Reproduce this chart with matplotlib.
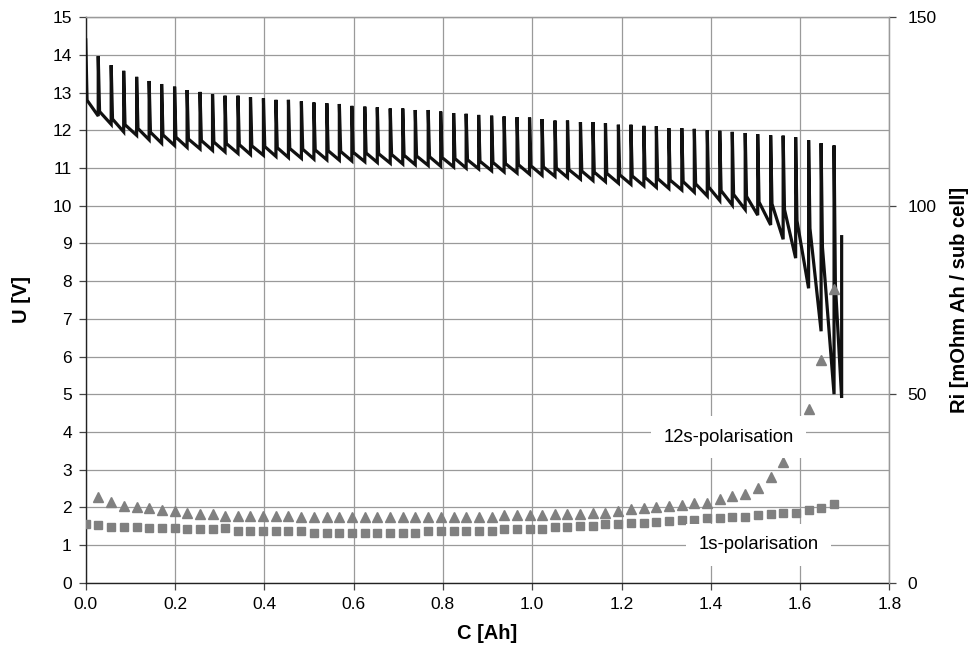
import matplotlib
matplotlib.use("Agg")
import matplotlib.pyplot as plt
from matplotlib.ticker import FormatStrFormatter

plt.rcParams['font.family'] = ['Liberation Sans', 'DejaVu Sans']

# ---- data -------------------------------------------------------------
# capacity at each current pulse [Ah]
pulse_c = [0.000, 0.028, 0.057, 0.085, 0.114, 0.142, 0.170, 0.199, 0.227, 0.256,
           0.284, 0.312, 0.341, 0.369, 0.398, 0.426, 0.454, 0.483, 0.511, 0.540,
           0.568, 0.596, 0.625, 0.653, 0.682, 0.710, 0.738, 0.767, 0.795, 0.824,
           0.852, 0.880, 0.909, 0.937, 0.966, 0.994, 1.022, 1.051, 1.079, 1.108,
           1.136, 1.164, 1.193, 1.221, 1.250, 1.278, 1.306, 1.335, 1.363, 1.392,
           1.420, 1.448, 1.477, 1.505, 1.534, 1.562, 1.590, 1.619, 1.647, 1.676]
# voltage peak at each pulse [V]
peak_u = [14.40, 13.97, 13.73, 13.58, 13.42, 13.31, 13.23, 13.16, 13.07, 13.02,
          12.96, 12.92, 12.92, 12.88, 12.85, 12.81, 12.81, 12.77, 12.74, 12.72,
          12.70, 12.65, 12.63, 12.61, 12.58, 12.58, 12.54, 12.54, 12.50, 12.46,
          12.44, 12.41, 12.39, 12.37, 12.35, 12.34, 12.30, 12.26, 12.26, 12.22,
          12.22, 12.19, 12.15, 12.15, 12.12, 12.11, 12.06, 12.06, 12.04, 12.00,
          11.99, 11.96, 11.93, 11.90, 11.87, 11.86, 11.82, 11.74, 11.66, 11.60]
# voltage right after the fast drop following each pulse [V]
knee_u = [12.80, 12.50, 12.30, 12.15, 12.05, 11.95, 11.88, 11.82, 11.77, 11.73,
          11.69, 11.65, 11.62, 11.59, 11.57, 11.54, 11.52, 11.50, 11.48, 11.46,
          11.44, 11.42, 11.40, 11.38, 11.36, 11.34, 11.32, 11.30, 11.28, 11.25,
          11.22, 11.18, 11.15, 11.12, 11.09, 11.06, 11.03, 11.00, 10.96, 10.92,
          10.89, 10.86, 10.82, 10.79, 10.75, 10.72, 10.68, 10.64, 10.58, 10.50,
          10.40, 10.30, 10.25, 10.10, 10.05, 9.90, 9.60, 9.40, 8.90, 7.90]
# voltage just before each pulse (pulse 1..59) [V]
trough_u = [12.38, 12.16, 11.96, 11.87, 11.75, 11.66, 11.60, 11.55, 11.51,
            11.47, 11.43, 11.39, 11.36, 11.34, 11.31, 11.28, 11.26, 11.24, 11.22,
            11.21, 11.19, 11.17, 11.15, 11.13, 11.11, 11.09, 11.07, 11.05, 11.03,
            11.00, 10.98, 10.93, 10.90, 10.87, 10.84, 10.81, 10.78, 10.75, 10.71,
            10.67, 10.64, 10.60, 10.57, 10.53, 10.49, 10.46, 10.42, 10.36, 10.26,
            10.14, 10.02, 9.90, 9.75, 9.49, 9.11, 8.61, 7.81, 6.67, 5.00]
# end of discharge: last low point and final relaxation step
final_c = 1.693
final_low_u = 4.90
final_high_u = 9.18

# internal resistance [mOhm Ah / sub cell]
ri_1s = [15.6, 15.3, 14.9, 14.9, 14.9, 14.5, 14.6, 14.6, 14.2, 14.2,
         14.2, 14.4, 13.7, 13.7, 13.7, 13.7, 13.7, 13.7, 13.3, 13.3,
         13.3, 13.3, 13.3, 13.3, 13.3, 13.3, 13.3, 13.7, 13.7, 13.7,
         13.7, 13.8, 13.7, 14.2, 14.2, 14.2, 14.2, 14.9, 14.9, 15.1,
         15.1, 15.6, 15.6, 15.8, 15.8, 16.2, 16.4, 16.5, 16.6, 17.1,
         17.1, 17.5, 17.5, 18.0, 18.2, 18.6, 18.6, 19.3, 19.7, 20.9]
ri_12s = [22.7, 21.3, 20.4, 20.2, 19.7, 19.3, 19.0, 18.6, 18.2,
          18.2, 17.8, 17.8, 17.8, 17.8, 17.8, 17.8, 17.3, 17.3, 17.3,
          17.3, 17.3, 17.5, 17.3, 17.3, 17.5, 17.5, 17.3, 17.5, 17.5,
          17.5, 17.5, 17.5, 18.0, 18.0, 18.0, 18.0, 18.1, 18.1, 18.1,
          18.6, 18.6, 19.0, 19.5, 19.9, 20.2, 20.4, 20.6, 21.1, 21.2,
          22.1, 23.0, 23.5, 25.2, 28.0, 31.9, 38.5, 46.0, 59.2, 78.0]

x_ticks = [0.0, 0.2, 0.4, 0.6, 0.8, 1.0, 1.2, 1.4, 1.6, 1.8]
u_ticks = list(range(0, 16))
ri_ticks = [0, 50, 100, 150]

# ---- build the pulsed voltage trace -------------------------------------
drop_dx = 0.003
xs, ys = [], []
for i, c in enumerate(pulse_c):
    if i > 0:
        xs += [c, c]
        ys += [trough_u[i - 1], peak_u[i]]
    else:
        xs.append(c)
        ys.append(peak_u[i])
    xs.append(c + drop_dx)
    ys.append(knee_u[i])
xs += [final_c, final_c]
ys += [final_low_u, final_high_u]

# ---- figure -------------------------------------------------------------
fig = plt.figure(figsize=(9.73, 6.52), dpi=100)
ax = fig.add_axes([0.0881, 0.1063, 0.9141 - 0.0881, 0.9735 - 0.1063])
grid_col = '#9a9a9a'

ax.plot(xs, ys, color='#111111', lw=2.3, solid_joinstyle='miter', zorder=3)
ax.set_xlim(0, 1.8)
ax.set_ylim(0, 15)
ax.set_xticks(x_ticks)
ax.set_yticks(u_ticks)
ax.xaxis.set_major_formatter(FormatStrFormatter('%.1f'))
ax.grid(True, color=grid_col, lw=0.9)
ax.set_axisbelow(True)
for s in ['top', 'right']:
    ax.spines[s].set_color(grid_col)
    ax.spines[s].set_linewidth(0.9)
for s in ['left', 'bottom']:
    ax.spines[s].set_color('#222222')
    ax.spines[s].set_linewidth(1.0)
ax.tick_params(axis='both', direction='out', length=5, width=0.9,
               color='#444444', labelsize=12.5, pad=5)
ax.set_xlabel('C [Ah]', fontsize=14.5, fontweight='bold', labelpad=9)
ax.set_ylabel('U [V]', fontsize=14.5, fontweight='bold', labelpad=15)

ax2 = ax.twinx()
ax2.set_ylim(0, 150)
ax2.set_yticks(ri_ticks)
ax2.plot(pulse_c, ri_1s, ls='none', marker='s', ms=6.2, color='#808080',
         mec='#808080', zorder=4)
ax2.plot(pulse_c[1:], ri_12s, ls='none', marker='^', ms=7.2, color='#808080',
         mec='#808080', zorder=4)
for s in ['top', 'right']:
    ax2.spines[s].set_color(grid_col)
    ax2.spines[s].set_linewidth(0.9)
ax2.spines['left'].set_visible(False)
ax2.spines['bottom'].set_visible(False)
ax2.tick_params(axis='y', direction='out', length=5, width=0.9,
                color='#444444', labelsize=12.5, pad=8)
ax2.set_ylabel('Ri [mOhm Ah / sub cell]', fontsize=14.5, fontweight='bold',
               labelpad=10)

box = dict(facecolor='white', edgecolor='none', pad=9)
ax2.text(1.44, 38.6, '12s-polarisation', fontsize=13.3, ha='center',
         va='center', bbox=box, zorder=10)
ax2.text(1.507, 10.0, '1s-polarisation', fontsize=13.3, ha='center',
         va='center', bbox=box, zorder=10)

fig.savefig('out.png', dpi=100)
